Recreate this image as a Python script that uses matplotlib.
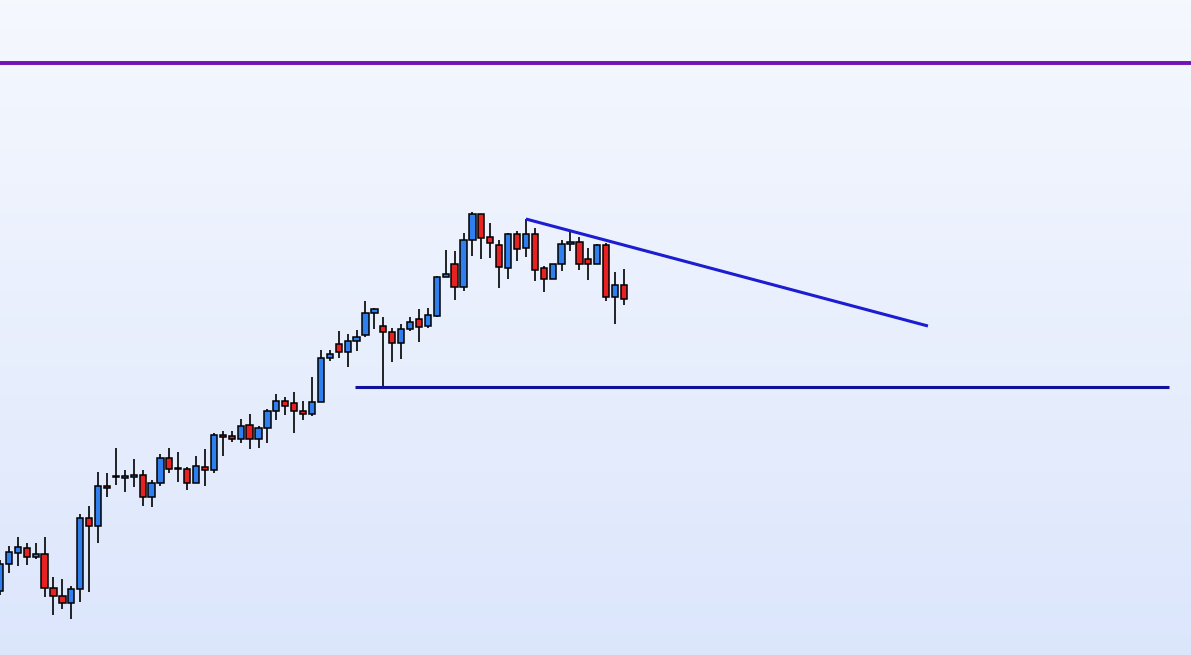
import numpy as np
import matplotlib
matplotlib.use("Agg")
import matplotlib.pyplot as plt

# candle data (price levels), one entry per bar
opens = [64, 91, 102, 107, 98, 101, 67, 59, 52, 66, 137, 129, 169, 178, 177, 178, 180, 158, 172, 197,
         186, 186, 172, 188, 185, 220, 219, 216, 230, 216, 227, 244, 254, 252, 244, 241, 253, 297, 311, 303,
         314, 320, 342, 329, 323, 312, 326, 336, 329, 339, 378, 391, 368, 415, 441, 418, 410, 387, 421, 407,
         421, 387, 376, 391, 411, 413, 396, 391, 410, 358, 370]
highs = [95, 109, 118, 112, 112, 118, 78, 76, 69, 141, 149, 183, 182, 207, 185, 196, 185, 175, 201, 207,
         203, 188, 199, 206, 222, 224, 224, 236, 241, 229, 246, 261, 258, 263, 254, 278, 305, 305, 324, 321,
         325, 354, 347, 338, 327, 331, 338, 346, 347, 379, 405, 404, 422, 443, 441, 432, 415, 422, 424, 436,
         427, 389, 391, 415, 424, 418, 407, 411, 412, 383, 386]
lows = [60, 82, 89, 90, 96, 58, 40, 46, 36, 53, 63, 112, 158, 170, 163, 168, 149, 148, 169, 182,
        173, 165, 172, 169, 182, 199, 213, 212, 206, 207, 212, 235, 240, 222, 235, 239, 253, 294, 297, 288,
        304, 318, 326, 268, 293, 296, 324, 313, 327, 338, 378, 355, 364, 399, 396, 397, 367, 376, 394, 398,
        374, 363, 376, 384, 404, 385, 375, 391, 354, 331, 350]
closes = [91, 103, 108, 98, 101, 67, 59, 52, 66, 137, 129, 169, 167, 179, 179, 180, 158, 172, 197, 186,
          186.5, 172, 189, 185, 220, 218, 216, 229, 216, 227, 244, 254, 249, 244, 241, 253, 297, 301, 303, 314,
          318, 342, 346, 323, 312, 326, 333, 328, 340, 378, 381, 368, 415, 441, 417, 412, 388, 421, 406, 421,
          385, 376, 391, 411, 413, 391, 391, 410, 358, 370, 356]

# drawn lines: trendline, support line, purple level
trend_x = [59.0, 104.1]
trend_y = [436, 329]
support_x = [39.8, 131.1]
support_y = 268
purple_y = 592

up_col = "#2f80ee"
down_col = "#e82222"

fig = plt.figure(figsize=(11.91, 6.55), dpi=100)
ax = fig.add_axes([0, 0, 1, 1])
x_max = 1191 / 8.914
ax.set_xlim(0, x_max)
ax.set_ylim(0, 655)
ax.axis("off")

# background gradient (lighter at top)
grad = np.linspace(0, 1, 256).reshape(-1, 1)
top = np.array([0.961, 0.973, 0.996])
bot = np.array([0.863, 0.902, 0.988])
img = top + (bot - top) * grad[:, :, None] * np.ones((1, 2, 1))
ax.imshow(img, extent=[0, x_max, 0, 655], aspect="auto", zorder=0, origin="upper")

xs = np.arange(len(opens))
for i in xs:
    o, h, l, c = opens[i], highs[i], lows[i], closes[i]
    ax.vlines(i, l, h, color="black", linewidth=1.2, zorder=2)
    col = up_col if c >= o else down_col
    bottom = min(o, c)
    height = max(abs(c - o), 1.5)
    ax.bar(i, height, bottom=bottom, width=0.7, color=col, edgecolor="black",
           linewidth=1.1, zorder=3)

ax.plot(trend_x, trend_y, color="#1c1cd0", linewidth=2.2, zorder=4, solid_capstyle="butt")
ax.plot(support_x, [support_y, support_y], color="#10109e", linewidth=2.2, zorder=4,
        solid_capstyle="butt")
ax.axhline(purple_y, color="#7212b4", linewidth=2.8, zorder=4)

fig.savefig("out.png", dpi=100)
